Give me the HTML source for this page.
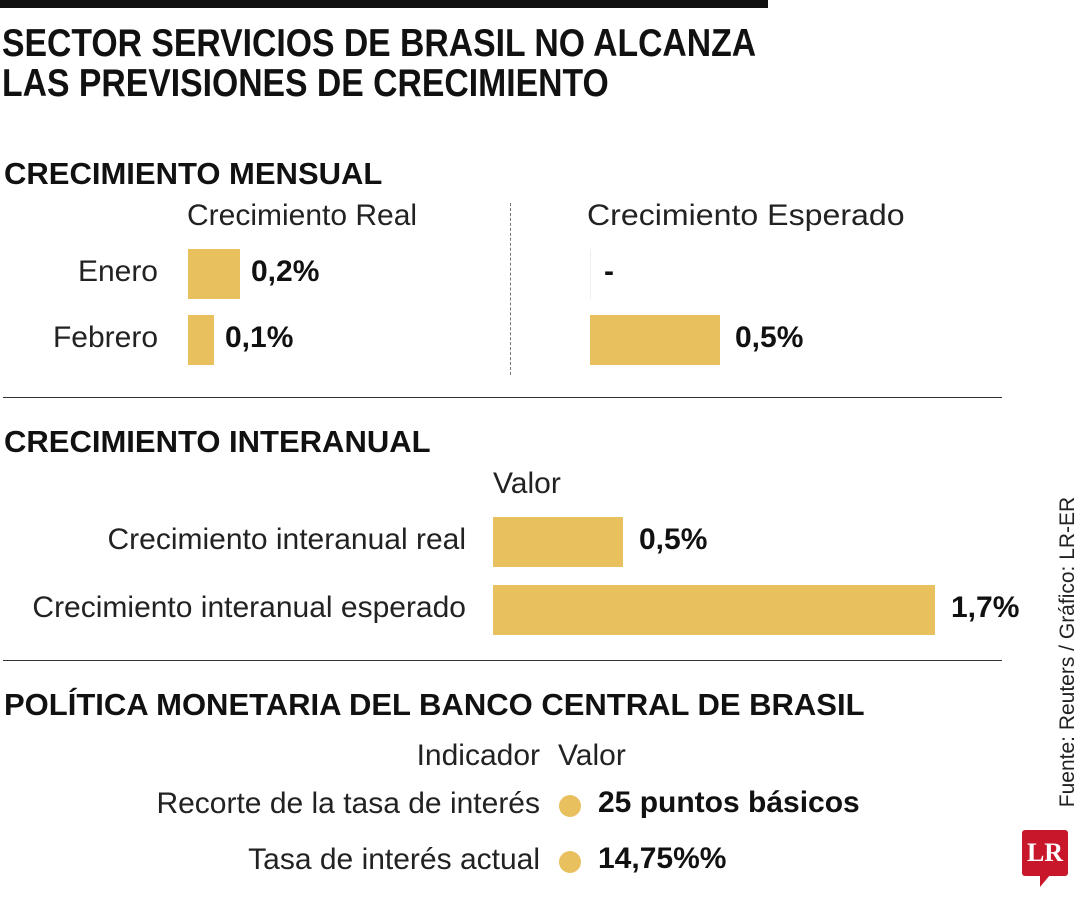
<!DOCTYPE html>
<html><head><meta charset="utf-8"><style>
body{margin:0;width:1080px;height:900px;background:#fff;position:relative;overflow:hidden;font-family:"Liberation Sans",sans-serif;color:#111}
.a{position:absolute;white-space:nowrap}
.h{font-weight:bold}
.l{font-weight:normal;color:#222}
.r{text-align:right}
.bar{position:absolute;background:#E8C15E}
.hr{position:absolute;height:1px;background:#333}
</style></head><body>
<div class="a" style="left:0;top:0;width:768px;height:8px;background:#111"></div>
<div class="a h" style="left:2px;top:24px;font-size:39px;line-height:40px;transform:scaleX(0.865);transform-origin:0 0">SECTOR SERVICIOS DE BRASIL NO ALCANZA<br>LAS PREVISIONES DE CRECIMIENTO</div>
<div class="a h" style="left:4px;top:156px;font-size:31px">CRECIMIENTO MENSUAL</div>
<div class="a l" style="left:187px;top:199px;font-size:30px">Crecimiento Real</div>
<div class="a l" style="left:587px;top:199px;font-size:30px;transform:scaleX(1.07);transform-origin:0 0">Crecimiento Esperado</div>
<div class="a" style="left:510px;top:203px;height:172px;border-left:1.5px dashed #777"></div>
<div id="monthly"></div>
<div class="hr" style="left:3px;top:397px;width:999px"></div>
<div class="a h" style="left:4px;top:424px;font-size:31px">CRECIMIENTO INTERANUAL</div>
<div class="a l" style="left:493px;top:467px;font-size:30px">Valor</div>
<div id="yoy"></div>
<div class="hr" style="left:3px;top:660px;width:999px"></div>
<div class="a h" style="left:4px;top:687px;font-size:31px">POLÍTICA MONETARIA DEL BANCO CENTRAL DE BRASIL</div>
<div class="a l r" style="right:540px;top:739px;font-size:30px">Indicador</div>
<div class="a l" style="left:558px;top:739px;font-size:30px">Valor</div>
<div class="a l r" style="right:540px;top:787px;font-size:30px">Recorte de la tasa de interés</div>
<div class="a" style="left:559px;top:795px;width:22px;height:22px;border-radius:50%;background:#E8C15E"></div>
<div class="a h" style="left:598px;top:786px;font-size:30px">25 puntos básicos</div>
<div class="a l r" style="right:540px;top:843px;font-size:30px">Tasa de interés actual</div>
<div class="a" style="left:559px;top:851px;width:22px;height:22px;border-radius:50%;background:#E8C15E"></div>
<div class="a h" style="left:598px;top:842px;font-size:30px">14,75%%</div>
<div class="a l" style="left:1068px;top:652px;font-size:21px;transform:translate(-50%,-50%) rotate(-90deg)">Fuente: Reuters / Gráfico: LR-ER</div>
<div class="a" style="left:1022px;top:830px;width:46px;height:46px;background:#c8162b;border-radius:3px;color:#fff;font-family:'Liberation Serif',serif;font-weight:bold;font-size:26px;line-height:46px;text-align:center">LR</div>
<div class="a" style="left:1040px;top:875px;width:0;height:0;border-left:10px solid #c8162b;border-bottom:12px solid transparent"></div>
<script>
const months=['Enero','Febrero'];
const realVals=[0.2,0.1];
const expVals=[null,0.5];
const realLabels=['0,2%','0,1%'];
const expLabels=['-','0,5%'];
const yoyCats=['Crecimiento interanual real','Crecimiento interanual esperado'];
const yoyVals=[0.5,1.7];
const yoyLabels=['0,5%','1,7%'];
const S=260;
function xs(v){return v*S;}
function mk(parent,cls,style,text){const d=document.createElement('div');d.className=cls;d.style.cssText=style;if(text!=null)d.textContent=text;parent.appendChild(d);return d;}
const m=document.getElementById('monthly');
months.forEach((mo,i)=>{
  const cy=274+i*66;
  let e=mk(m,'a l r','right:922px;top:'+(cy-19)+'px;font-size:30px',mo);
  
  
  const w=xs(realVals[i]);
  e=mk(m,'bar','left:188px;top:'+(cy-25)+'px;width:'+w+'px;height:50px');
  
  
  e=mk(m,'a h','left:'+(188+w+11)+'px;top:'+(cy-19)+'px;font-size:30px',realLabels[i]);
  
  
  const ev=expVals[i];
  const ew=ev==null?1:xs(ev);
  e=mk(m,'bar','left:590px;top:'+(cy-25)+'px;width:'+ew+'px;height:50px;'+(ev==null?'background:#eee':''));
  
  
  e=mk(m,'a h','left:'+(590+ew+(ev==null?13:15))+'px;top:'+(cy-19)+'px;font-size:30px',expLabels[i]);
  
  
});
const y=document.getElementById('yoy');
yoyCats.forEach((c,i)=>{
  const cy=542+i*68;
  let e=mk(y,'a l r','right:614px;top:'+(cy-19)+'px;font-size:30px',c);
  
  
  const w=xs(yoyVals[i]);
  e=mk(y,'bar','left:493px;top:'+(cy-25)+'px;width:'+w+'px;height:50px');
  
  
  e=mk(y,'a h','left:'+(493+w+16)+'px;top:'+(cy-19)+'px;font-size:30px',yoyLabels[i]);
  
  
});
</script>
</body></html>
